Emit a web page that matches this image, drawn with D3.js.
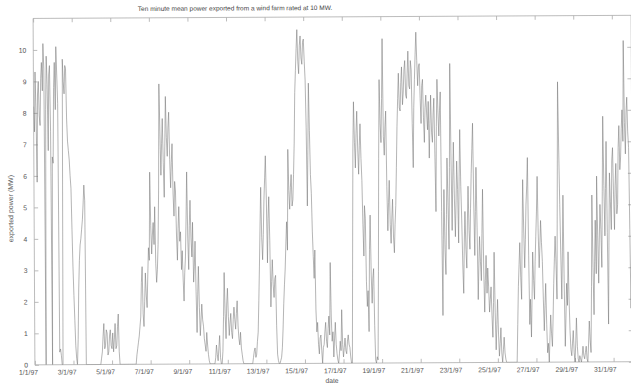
<!DOCTYPE html>
<html>
<head>
<meta charset="utf-8">
<script src="https://cdn.jsdelivr.net/npm/d3@7"></script>
<style>
  html, body { margin: 0; padding: 0; background: #fff; }
  svg { display: block; font-family: "Liberation Sans", Arial, sans-serif; }
</style>
</head>
<body>
<svg id="chart" width="631" height="387"></svg>
<script>
// Texts
const titleText = "Ten minute mean power exported from a wind farm rated at 10 MW.";
const xLabel = "date";
const yLabel = "exported power (MW)";

// Time base: one reading per hour through January 1997
const startDate = new Date(1997, 0, 1);
const endDate = new Date(1997, 1, 1);
const stepHours = 1;

// Tick values
const dateTickDays = [1, 3, 5, 7, 9, 11, 13, 15, 17, 19, 21, 23, 25, 27, 29, 31];
const powerTicks = [0, 1, 2, 3, 4, 5, 6, 7, 8, 9, 10];

// Exported power (MW), 24 hourly readings per day
const power = [
  // 1 Jan
  8.2, 7.4, 9.3, 8.0, 5.8, 8.6, 9.0, 7.9, 7.6, 9.1, 9.6, 8.7,
  10.2, 9.4, 0, 8.1, 9.8, 8.9, 6.8, 9.2, 9.5, 7.4, 0, 6.6,
  // 2 Jan
  6.4, 8.8, 9.6, 8.1, 10.1, 9.2, 8.3, 0.4, 0.5, 0.3, 0, 0,
  9.7, 9.0, 8.6, 9.5, 9.4, 7.8, 7.1, 6.8, 6.5, 6.0, 5.6, 4.3,
  // 3 Jan
  3.1, 2.2, 1.4, 0.6, 0.2, 0, 0.8, 2.4, 3.3, 3.8, 4.0, 4.3,
  4.6, 5.1, 5.7, 5.2, 0, 0, 0, 0, 0, 0, 0, 0,
  // 4 Jan
  0, 0, 0, 0, 0, 0, 0, 0, 0, 0, 0, 0.2,
  0.4, 0.9, 1.3, 0.5, 0.6, 1.1, 1.0, 0.3, 0.4, 0.9, 1.1, 0.6,
  // 5 Jan
  0.5, 1.0, 0.4, 0.8, 1.3, 0.5, 0.6, 1.2, 1.6, 0.4, 0, 0,
  0, 0, 0, 0, 0, 0, 0, 0, 0, 0, 0, 0,
  // 6 Jan
  0, 0, 0, 0, 0, 0, 0, 0.3, 0.5, 0.7, 0.9, 1.2,
  1.5, 2.6, 3.1, 1.6, 1.2, 2.0, 2.9, 2.2, 1.8, 2.8, 3.7, 3.3,
  // 7 Jan
  6.1, 4.4, 3.5, 4.1, 4.5, 3.8, 5.0, 3.2, 2.6, 3.0, 3.8, 5.5,
  8.9, 7.4, 6.0, 7.0, 7.8, 6.4, 5.3, 6.9, 8.5, 7.2, 6.6, 7.5,
  // 8 Jan
  8.0, 6.5, 5.6, 6.4, 7.0, 5.4, 4.7, 5.8, 5.5, 4.1, 3.3, 4.3,
  5.0, 3.9, 4.2, 3.0, 3.6, 2.7, 2.0, 2.9, 3.4, 4.6, 6.1, 4.0,
  // 9 Jan
  3.0, 4.4, 5.2, 4.0, 3.4, 4.5, 2.6, 3.1, 3.9, 2.3, 1.0, 2.2,
  3.1, 1.8, 0.9, 1.4, 1.9, 1.4, 1.2, 0.8, 0.6, 0.4, 1.0, 0.6,
  // 10 Jan
  0.3, 0.1, 0, 0, 0, 0, 0, 0, 0, 0.2, 0.6, 0.3,
  0.1, 0.5, 0.9, 0.2, 0, 0, 0.4, 1.5, 2.9, 1.6, 0.8, 1.9,
  // 11 Jan
  2.4, 1.5, 0.9, 1.3, 1.6, 1.0, 0.8, 1.4, 1.8, 1.4, 1.1, 1.6,
  2.0, 1.2, 0.8, 0.6, 1.0, 0.5, 0.3, 0.1, 0, 0, 0, 0,
  // 12 Jan
  0, 0, 0, 0, 0, 0, 0, 0, 0.2, 0.4, 0.5, 0.2,
  0.3, 0.7, 1.0, 2.0, 3.1, 4.4, 5.6, 4.0, 3.3, 4.1, 5.2, 5.9,
  // 13 Jan
  6.6, 5.2, 3.2, 4.6, 5.3, 3.9, 1.8, 2.6, 3.3, 2.5, 2.1, 2.7,
  2.8, 1.2, 0.3, 0.1, 0, 0, 0.1, 0.2, 0.5, 1.1, 1.9, 2.5,
  // 14 Jan
  3.0, 3.8, 4.5, 3.6, 6.8, 5.5, 4.9, 5.6, 6.0, 5.0, 5.2, 6.0,
  7.0, 8.6, 9.3, 10.0, 10.6, 9.6, 9.2, 10.1, 10.4, 9.7, 9.5, 10.2,
  // 15 Jan
  10.3, 9.6, 9.0, 7.5, 5.0, 6.8, 8.9, 7.4, 6.0, 5.4, 4.2, 3.4,
  2.7, 3.6, 1.7, 1.0, 1.3, 0.6, 0.3, 0.8, 0.9, 0.4, 0, 0.5,
  // 16 Jan
  0.6, 1.0, 1.3, 0.7, 0.5, 1.1, 1.5, 0.9, 3.2, 1.5, 0.7, 1.0,
  0.2, 0.8, 1.3, 0.6, 0.3, 0.1, 0, 0.3, 0.7, 0.4, 1.7, 0.6,
  // 17 Jan
  0.2, 0.5, 0.8, 0.4, 0.3, 0.7, 0.9, 0.6, 0.5, 0.2, 0, 0,
  3.5, 6.8, 8.3, 7.0, 6.2, 7.3, 8.0, 6.8, 6.0, 6.9, 7.6, 6.5,
  // 18 Jan
  5.8, 4.4, 3.4, 5.0, 4.6, 2.6, 1.8, 2.3, 1.0, 3.6, 4.7, 2.8,
  1.9, 2.7, 3.0, 1.2, 0.1, 0, 0.2, 0.1, 2.9, 6.5, 9.0, 7.6,
  // 19 Jan
  7.0, 8.4, 10.3, 7.2, 6.6, 7.5, 8.0, 5.6, 4.2, 5.1, 5.8, 4.4,
  3.8, 4.6, 5.2, 4.0, 3.5, 4.4, 5.0, 6.2, 7.5, 8.4, 9.2, 8.1,
  // 20 Jan
  8.0, 8.9, 9.4, 8.2, 8.6, 9.3, 9.6, 8.5, 8.4, 9.2, 9.9, 8.8,
  8.7, 9.6, 9.3, 7.6, 6.2, 8.1, 9.0, 9.8, 10.5, 9.6, 8.8, 9.4,
  // 21 Jan
  9.5, 8.4, 7.6, 8.8, 9.0, 7.8, 7.0, 8.1, 8.5, 7.9, 7.4, 8.3,
  6.5, 7.6, 8.5, 7.3, 7.0, 7.9, 8.4, 6.6, 4.8, 7.5, 9.0, 8.0,
  // 22 Jan
  7.2, 8.0, 8.6, 4.8, 1.5, 3.9, 5.5, 3.6, 2.8, 4.7, 6.5, 5.0,
  3.6, 6.2, 9.5, 6.5, 4.2, 5.8, 7.0, 5.2, 4.0, 5.1, 6.4, 5.5,
  // 23 Jan
  3.8, 5.9, 7.4, 5.6, 4.5, 3.1, 2.2, 3.8, 4.8, 3.6, 3.0, 4.5,
  5.6, 4.2, 3.6, 4.9, 6.0, 6.8, 7.6, 5.1, 3.4, 4.8, 6.2, 4.3,
  // 24 Jan
  2.0, 3.1, 4.0, 3.2, 2.6, 4.1, 5.5, 3.0, 1.6, 2.6, 3.4, 2.2,
  3.0, 2.4, 1.6, 2.0, 2.4, 1.5, 0.8, 1.9, 3.5, 1.6, 0.4, 1.2,
  // 25 Jan
  2.0, 0.9, 0.2, 0.6, 1.1, 0.3, 0, 0.4, 0.8, 0.3, 0.1, 0,
  0, 0, 0, 0, 0, 0, 0, 0, 0, 0, 0, 0,
  // 26 Jan
  0, 1.2, 2.4, 3.1, 3.8, 2.7, 2.0, 4.1, 5.8, 4.2, 3.0, 3.9,
  5.0, 5.6, 6.5, 3.4, 1.2, 2.0, 0.8, 2.1, 3.5, 2.6, 2.0, 3.2,
  // 27 Jan
  4.0, 4.8, 5.9, 4.1, 3.0, 3.7, 4.5, 3.8, 3.2, 2.0, 1.0, 1.8,
  2.5, 1.2, 0.3, 0.6, 0, 0.8, 1.5, 0.9, 0.5, 1.4, 2.5, 3.3,
  // 28 Jan
  4.0, 3.1, 2.0, 5.4, 8.9, 6.8, 5.0, 3.4, 2.0, 3.5, 5.3, 2.6,
  0.5, 1.4, 2.5, 1.8, 3.5, 2.0, 1.0, 0.4, 0.2, 0.6, 1.0, 0.3,
  // 29 Jan
  0, 0.6, 1.4, 0.5, 0.1, 0, 0.2, 0.1, 0, 0.2, 0.5, 0.2,
  0.1, 0.3, 0.5, 0.1, 0, 0.6, 1.3, 0.7, 0.3, 2.4, 5.3, 3.0,
  // 30 Jan
  1.5, 3.2, 4.5, 2.8, 5.9, 4.0, 2.5, 3.9, 5.0, 4.2, 3.0, 5.4,
  7.8, 5.6, 4.0, 5.5, 7.0, 4.1, 1.2, 3.8, 6.0, 5.1, 4.2, 6.4,
  // 31 Jan
  6.8, 5.3, 4.2, 5.6, 6.3, 4.7, 5.0, 6.8, 7.5, 6.1, 6.5, 7.4,
  8.0, 7.0, 10.2, 7.6, 6.6, 7.9, 8.4, 7.3, 6.8, 4.2, 1.7, 2.6
];

// Plot box
const box = { left: 34, right: 632, top: 16.9, bottom: 363.3 };

const x = d3.scaleTime().domain([startDate, endDate]).range([box.left, box.right]);
const y = d3.scaleLinear().domain([0, 11]).range([box.bottom, box.top]);

const svg = d3.select("#chart");
const defs = svg.append("defs");
defs.append("clipPath").attr("id", "plot-clip")
  .append("rect")
  .attr("x", box.left).attr("y", box.top)
  .attr("width", box.right - box.left).attr("height", box.bottom - box.top);

// The sheet sits very slightly askew
const g = svg.append("g").attr("transform", "rotate(-0.3 330 190)");

const axisColor = "#ababab";
const textColor = "#555";

// Frame
g.append("rect")
  .attr("x", box.left).attr("y", box.top)
  .attr("width", box.right - box.left).attr("height", box.bottom - box.top)
  .attr("fill", "none").attr("stroke", axisColor).attr("stroke-width", 0.8);

const dateTicks = dateTickDays.map(d => new Date(1997, 0, d));
const fmtDate = d => `${d.getDate()}/${d.getMonth() + 1}/97`;

function styleAxis(sel) {
  sel.select(".domain").remove();
  sel.selectAll(".tick line").attr("stroke", axisColor).attr("stroke-width", 0.8);
  sel.selectAll(".tick text").attr("fill", textColor).attr("font-size", 6.8);
}

// Bottom axis with date labels
const xAxisG = g.append("g")
  .attr("transform", `translate(0,${box.bottom})`)
  .call(d3.axisBottom(x).tickValues(dateTicks).tickFormat(fmtDate).tickSize(-4).tickPadding(5));
styleAxis(xAxisG);
xAxisG.selectAll(".tick text").attr("text-anchor", "end").attr("x", 2.5);

// Top axis (ticks only)
const xTopG = g.append("g")
  .attr("transform", `translate(0,${box.top})`)
  .call(d3.axisTop(x).tickValues(dateTicks).tickFormat("").tickSize(-4));
styleAxis(xTopG);

// Left axis with power labels
const yAxisG = g.append("g")
  .attr("transform", `translate(${box.left},0)`)
  .call(d3.axisLeft(y).tickValues(powerTicks).tickFormat(d3.format("d")).tickSize(-4).tickPadding(7));
styleAxis(yAxisG);

// Right axis (ticks only)
const yRightG = g.append("g")
  .attr("transform", `translate(${box.right},0)`)
  .call(d3.axisRight(y).tickValues(powerTicks).tickFormat("").tickSize(-4));
styleAxis(yRightG);

// Power trace
const stepMs = stepHours * 3600 * 1000;
const line = d3.line()
  .x((d, i) => x(new Date(startDate.getTime() + i * stepMs)))
  .y(d => y(d));

g.append("path")
  .datum(power)
  .attr("clip-path", "url(#plot-clip)")
  .attr("fill", "none")
  .attr("stroke", "#787878")
  .attr("stroke-width", 0.55)
  .attr("d", line);

// Title and axis labels
g.append("text")
  .attr("x", 236).attr("y", 10)
  .attr("text-anchor", "middle")
  .attr("font-size", 6.5)
  .attr("fill", "#444")
  .text(titleText);

g.append("text")
  .attr("x", 331).attr("y", 383)
  .attr("text-anchor", "middle")
  .attr("font-size", 6.8)
  .attr("fill", textColor)
  .text(xLabel);

g.append("text")
  .attr("transform", "translate(13,207) rotate(-90)")
  .attr("text-anchor", "middle")
  .attr("font-size", 7)
  .attr("fill", textColor)
  .text(yLabel);
</script>
</body>
</html>
